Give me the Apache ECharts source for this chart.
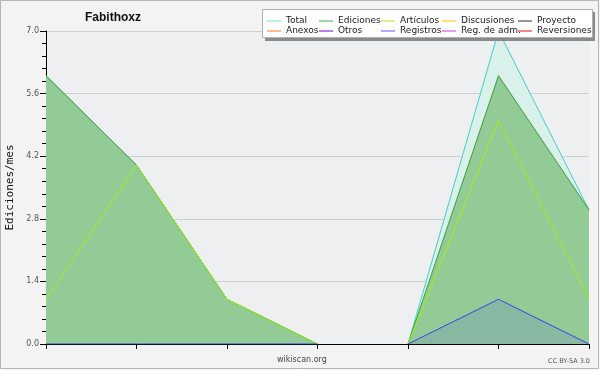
<!DOCTYPE html>
<html>
<head>
<meta charset="utf-8">
<script src="https://cdn.jsdelivr.net/npm/echarts@6/dist/echarts.min.js"></script>
<style>html,body{margin:0;padding:0;background:#f3f3f3;}#c{width:600px;height:370px;}</style>
</head>
<body>
<div id="c"></div>
<script>
// x positions (months), two separate segments with a gap between them
const segA = [0, 1, 2, 3];
const segB = [4, 5, 6];
const totalVals     = [6, 4, 1, 0, 0, 7, 3];
const edicionesVals = [6, 4, 1, 0, 0, 6, 3];
const articulosVals = [1, 4, 1, 0, 0, 5, 1];
const registrosVals = [0, 0, 0, 0, 0, 1, 0];
const yTicks = [0, 1.4, 2.8, 4.2, 5.6, 7.0];
const legendNames = ['Total','Ediciones','Artículos','Discusiones','Proyecto','Anexos','Otros','Registros','Reg. de adm.','Reversiones'];
const legendColors = ['#8ee3e0','#5fbf63','#b8ee3a','#ffcc22','#555555','#ff8a3d','#8a2be2','#7777ff','#dd55ee','#ee3333'];

const FONT = 'DejaVu Sans';

function pts(seg, vals){ return seg.map(i => [i, vals[i]]); }

const seriesDefs = [
  {name:'Total', vals: totalVals, line:'#3fd0c8', area:'#d9f1ea'},
  {name:'Ediciones', vals: edicionesVals, line:'#3a9d3a', area:'#93cb97'},
  {name:'Artículos', vals: articulosVals, line:'#a0f010', area:null},
  {name:'Registros', vals: registrosVals, line:'#3344ee', area:'rgba(51,68,238,0.13)'}
];

const series = [];
seriesDefs.forEach((d, k) => {
  [segA, segB].forEach(seg => {
    const s = {
      name: d.name, type:'line', data: pts(seg, d.vals),
      showSymbol:false, symbol:'none', silent:true,
      itemStyle:{color: legendColors[legendNames.indexOf(d.name)]},
      lineStyle:{color:d.line, width:1},
      z: 2 + k*0.01
    };
    if (d.area) s.areaStyle = {color:d.area, opacity:1, origin:'start'};
    series.push(s);
  });
});
// series without data in this chart (legend entries)
legendNames.forEach((n, i) => {
  if (!seriesDefs.find(d => d.name === n)) {
    series.push({name:n, type:'line', data:[], showSymbol:false, itemStyle:{color:legendColors[i]}, lineStyle:{color:legendColors[i], width:1}});
  }
});

const colX = [267, 319, 381, 442, 518];
const rowY = [16, 26];
const legends = legendNames.map((n, i) => ({
  data:[n], left: colX[i % 5], top: rowY[Math.floor(i / 5)],
  icon:'rect', itemWidth:14, itemHeight:1.2, itemGap:0, padding:0,
  selectedMode:false,
  textStyle:{fontFamily:FONT, fontSize:9, color:'#222', padding:[0,0,0,0], lineHeight:10},
  z: 10
}));

const chart = echarts.init(document.getElementById('c'), null, {renderer:'canvas'});
chart.setOption({
  animation:false,
  backgroundColor:'#f3f3f3',
  title:{text:'Fabithoxz', left:85, top:12, padding:0,
    textStyle:{fontFamily:'Liberation Sans', fontSize:12, fontWeight:'bold', color:'#111'}},
  legend: legends,
  grid:{left:46, right:11, top:31, bottom:26, show:true, backgroundColor:'#eeeff1', borderWidth:0, outerBoundsMode:'none', containLabel:false},
  xAxis:{type:'value', min:0, max:6, interval:1,
    axisLine:{show:true, lineStyle:{color:'#000', width:1}},
    axisTick:{show:true, length:5, lineStyle:{color:'#000'}},
    axisLabel:{show:false}, splitLine:{show:false}},
  yAxis:{type:'value', min:0, max:7, interval:1.4,
    name:'Ediciones/mes', nameLocation:'middle', nameGap:30, nameRotate:90,
    nameTextStyle:{fontFamily:'DejaVu Sans Mono', fontSize:11, color:'#111'},
    axisLine:{show:true, lineStyle:{color:'#000', width:1}},
    axisTick:{show:true, length:6, lineStyle:{color:'#000'}},
    minorTick:{show:true, splitNumber:5, length:4, lineStyle:{color:'#000'}},
    axisLabel:{margin:7, fontFamily:FONT, fontSize:8, color:'#555',
      formatter: v => { const t = yTicks.find(x => Math.abs(x - v) < 1e-6); return (t !== undefined ? t : v).toFixed(1); }},
    splitLine:{show:true, lineStyle:{color:'#cfcfd2', width:1}}},
  graphic:[
    {type:'rect', shape:{x:0.5, y:0.5, width:598, height:368}, style:{fill:'none', stroke:'#b5b5b5', lineWidth:1}, z:0},
    {type:'rect', shape:{x:265, y:12, width:330, height:29}, style:{fill:'#8a8a8a'}, z:5},
    {type:'rect', shape:{x:262.5, y:9.5, width:330, height:28}, style:{fill:'#ffffff', stroke:'#b0b0b0', lineWidth:1}, z:6},
    {type:'text', left:277, top:356, style:{text:'wikiscan.org', font:'8px "DejaVu Sans"', fill:'#444'}, z:6},
    {type:'text', right:10, top:358, style:{text:'CC BY-SA 3.0', font:'6.5px "DejaVu Sans"', fill:'#555'}, z:6}
  ],
  series: series
});
</script>
</body>
</html>
